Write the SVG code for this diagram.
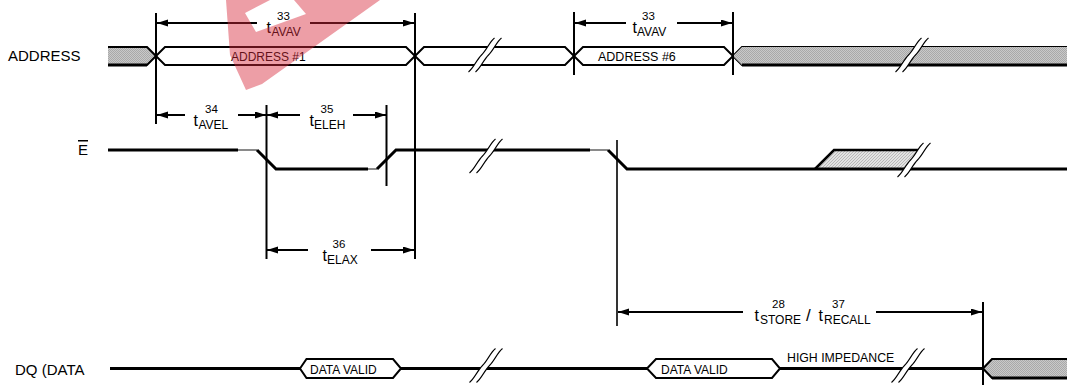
<svg xmlns="http://www.w3.org/2000/svg" width="1067" height="385" viewBox="0 0 1067 385">
<style>
.lbl{font-family:"Liberation Sans",Arial,sans-serif;fill:#000}
.sig{font-size:15px}
.bus{fill:none;stroke:#000;stroke-width:2;stroke-linejoin:miter}
.thick{fill:none;stroke:#000;stroke-width:3}
.grey{fill:none;stroke:#8a8a8a;stroke-width:2}
.vl{stroke:#000;stroke-width:2}
.arr{stroke:#000;stroke-width:2;marker-end:url(#ah)}
.t{font-size:16px}
.sub{font-size:12px}
.sup{font-size:11.5px}
.in{font-size:12px}
.dv{font-size:12px}
.brkfill{fill:#fff;stroke:none}
.brkline{fill:none;stroke:#000;stroke-width:1.1}
</style>
<defs>
<marker id="ah" markerUnits="userSpaceOnUse" markerWidth="12" markerHeight="8" refX="11" refY="3.5" orient="auto">
<path d="M0,0 L11,3.5 L0,7 Z" fill="#000"/>
</marker>
<pattern id="dots" width="2" height="2" patternUnits="userSpaceOnUse">
<rect width="2" height="2" fill="#c9c9c9"/>
<rect width="1" height="1" fill="#a9a9a9"/>
<rect x="1" y="1" width="1" height="1" fill="#a9a9a9"/>
</pattern>
<pattern id="diag" width="3" height="3" patternUnits="userSpaceOnUse">
<rect width="3" height="3" fill="#e2e2e2"/>
<path d="M-1,1 L1,-1 M0,3 L3,0 M2,4 L4,2" stroke="#a6a6a6" stroke-width="0.7"/>
</pattern>
<g id="brk">
<path class="brkfill" d="M-16.5,17 C-11.5,13 -8.5,5 -3.5,0 S4.5,-13 9.5,-17 L16.5,-17 C11.5,-13 8.5,-5 3.5,0 C-1.5,5 -4.5,13 -9.5,17 Z"/>
<path class="brkline" d="M-16.5,17 C-11.5,13 -8.5,5 -3.5,0 S4.5,-13 9.5,-17"/>
<path class="brkline" d="M-9.5,17 C-4.5,13 -1.5,5 3.5,0 S11.5,-13 16.5,-17"/>
</g>
</defs>
<rect width="1067" height="385" fill="#fff"/>

<g id="address">
<text class="lbl sig" x="8" y="61">ADDRESS</text>
<path d="M108,47 H147 L156,56 L147,65 H108 Z" fill="url(#dots)"/>
<path class="bus" d="M108,47 H147 L165,65 H406 L424,47 H565 L583,65 H724 L742,47 H1067"/>
<path class="bus" d="M108,65 H147 L165,47 H406 L424,65 H565 L583,47 H724 L742,65 H1067"/>
<path d="M108,65 H147" stroke="#000" stroke-width="3"/>
<path d="M733,56 L742,47 H1067 V65 H742 Z" fill="url(#dots)"/>
<path d="M742,65 H1067" stroke="#000" stroke-width="3"/>
<text class="lbl in" x="231" y="61">ADDRESS #1</text>
<text class="lbl in" x="598" y="60.5" style="font-size:12.5px">ADDRESS #6</text>
<use href="#brk" x="485" y="55"/>
<use href="#brk" x="912" y="55"/>
</g>

<g id="e-signal">
<text class="lbl sig" x="78" y="155" style="text-decoration:overline">E</text>
<path d="M815,169 L834,150 H922 L906,169 Z" fill="url(#diag)"/>
<path d="M815,169 L834,150 H922" fill="none" stroke="#000" stroke-width="2.5"/>
<path class="thick" d="M108,150 H238"/>
<path class="grey" d="M238,150 H257 M368,169 H377 M590,150 H608"/>
<path class="thick" d="M257,150 L276,169 H368"/>
<path class="thick" d="M377,169 L396,150 H590"/>
<path class="thick" d="M608,150 L627,169 H1067"/>
<use href="#brk" x="486" y="156"/>
<use href="#brk" x="914" y="160"/>
</g>

<g id="dq">
<text class="lbl sig" x="15" y="375">DQ (DATA</text>
<path class="thick" d="M110,368.5 H300 M401,368.5 H647 M780,368.5 H983"/>
<path class="bus" d="M300,368.5 L306.5,359 H393 L401,368.5 L393,378 H306.5 Z" fill="#fff"/>
<text class="lbl dv" x="310" y="373.5">DATA VALID</text>
<path class="bus" d="M647,368.5 L656,359 H772 L780,368.5 L772,378 H656 Z" fill="#fff"/>
<text class="lbl dv" x="661" y="373.5">DATA VALID</text>
<text class="lbl" x="787" y="362" style="font-size:12.3px">HIGH IMPEDANCE</text>
<path d="M983,368.5 L992,359 H1067 V378 H992 Z" fill="url(#dots)"/>
<path class="bus" d="M983,368.5 L992,359 H1067 M983,368.5 L992,378 H1067"/>
<path d="M992,378 H1067" stroke="#000" stroke-width="3"/>
<use href="#brk" x="486" y="365.5"/>
<use href="#brk" x="908" y="365.5"/>
</g>

<g id="connectors">
<line class="vl" x1="156" y1="13" x2="156" y2="124"/>
<line class="vl" x1="415" y1="13" x2="415" y2="259"/>
<line class="vl" x1="574" y1="12" x2="574" y2="75"/>
<line class="vl" x1="733" y1="12" x2="733" y2="75"/>
<line class="vl" x1="266.5" y1="105" x2="266.5" y2="259"/>
<line class="vl" x1="386.5" y1="105" x2="386.5" y2="186"/>
<line class="vl" x1="617" y1="140" x2="617" y2="326" style="stroke-width:1.6"/>
<line class="vl" x1="983" y1="302" x2="983" y2="385"/>

<line class="arr" x1="257" y1="23" x2="157" y2="23"/>
<line class="arr" x1="310" y1="23" x2="414" y2="23"/>
<line class="arr" x1="626" y1="23" x2="575" y2="23"/>
<line class="arr" x1="677" y1="23" x2="732" y2="23"/>
<line class="arr" x1="185" y1="115" x2="157" y2="115"/>
<line class="arr" x1="238" y1="115" x2="266" y2="115"/>
<line class="arr" x1="300" y1="115" x2="267" y2="115"/>
<line class="arr" x1="353" y1="115" x2="386" y2="115"/>
<line class="arr" x1="308" y1="250" x2="267" y2="250"/>
<line class="arr" x1="371" y1="250" x2="414" y2="250"/>
<line class="arr" x1="743" y1="312" x2="618" y2="312"/>
<line class="arr" x1="876" y1="312" x2="982" y2="312"/>
</g>

<g id="labels">
<text class="lbl t" x="266.5" y="33">t</text><text class="lbl sub" x="271.5" y="36">AVAV</text><text class="lbl sup" x="277" y="20">33</text>
<text class="lbl t" x="632.5" y="33">t</text><text class="lbl sub" x="637" y="36">AVAV</text><text class="lbl sup" x="642" y="20">33</text>
<text class="lbl t" x="193.5" y="126">t</text><text class="lbl sub" x="198.5" y="129">AVEL</text><text class="lbl sup" x="205" y="113">34</text>
<text class="lbl t" x="309.5" y="126">t</text><text class="lbl sub" x="314" y="129">ELEH</text><text class="lbl sup" x="320.5" y="113">35</text>
<text class="lbl t" x="322.5" y="261">t</text><text class="lbl sub" x="327" y="264">ELAX</text><text class="lbl sup" x="332.5" y="248">36</text>
<text class="lbl t" x="754.5" y="321">t</text><text class="lbl sub" x="760" y="324">STORE</text><text class="lbl sup" x="772" y="307.5">28</text>
<text class="lbl" x="806" y="321" style="font-size:17px">/</text>
<text class="lbl t" x="818.5" y="321">t</text><text class="lbl sub" x="824" y="324">RECALL</text><text class="lbl sup" x="832" y="307.5">37</text>
</g>

<g id="watermark" opacity="0.45">
<path fill="#d8283a" fill-rule="evenodd" d="M226,0 L380,0 L262,84 L246,90 L230,55 Z M245,13 L256,32 L306,14 L294,0 L270,0 Z"/>
</g>
</svg>
